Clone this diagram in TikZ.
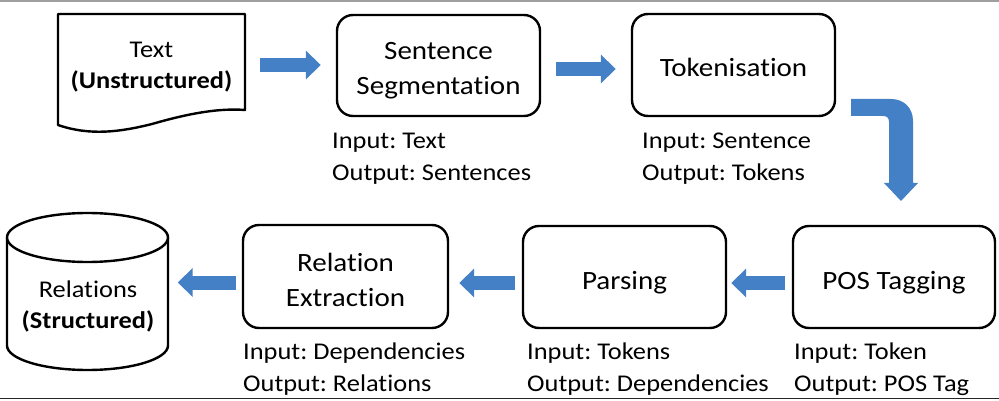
\documentclass[tikz,border=0pt]{standalone}
\usepackage{fontspec}
\setmainfont{Carlito}[FakeStretch=1.1, Ligatures={NoCommon}]
\usetikzlibrary{arrows.meta,calc}
\frenchspacing
\definecolor{arrowblue}{RGB}{68,128,198}
\newcommand\boxtxt[1]{\raisebox{-5pt}[\height][\depth]{\begin{tabular}{@{}c@{}}#1\end{tabular}}}
\tikzset{
  box/.style={draw=black, line width=2.4pt, rounded corners=16pt, fill=white,
    inner sep=0pt, font=\fontsize{26.4}{35}\selectfont},
  lbl/.style={align=left, inner sep=0pt, font=\fontsize{24}{32}\selectfont},
  plaintxt/.style={align=center, inner sep=0pt, font=\fontsize{24}{31}\selectfont},
  outline/.style={draw=black, line width=2.4pt, fill=white},
  blk/.style={draw=arrowblue, line width=14pt,
    -{Triangle[length=15pt, width=28pt]}},
}
\begin{document}
\begin{tikzpicture}[x=1pt, y=-1pt]
\useasboundingbox (0,0) rectangle (999,401);
% frame lines
\draw[gray!75, line width=2pt] (0,1) -- (999,1);
\draw[black!85, line width=1.6pt] (0,398.5) -- (999,398.5);

% document shape
\draw[outline, line join=round] (58,14) -- (245,14) -- (245,110)
  .. controls (220,108) and (190,113) .. (152,124)
  .. controls (120,132) and (90,136) .. (58,125) -- cycle;
\node[plaintxt, minimum width=187, minimum height=110] (doc) at (151.5,67)
  {Text\\\textbf{(Unstructured)}};

% cylinder
\draw[outline] (7,237.5) -- (7,345.5)
  arc[start angle=180, end angle=0, x radius=80.5, y radius=24.5]
  -- (168,237.5);
\draw[outline] (87.5,237.5) ellipse [x radius=80.5, y radius=24.5];
\node[plaintxt, minimum width=161, minimum height=100] (cyl) at (88,306)
  {Relations\\\textbf{(Structured)}};

% process boxes
\node[box, minimum width=203, minimum height=101] (b1) at (438.5,65.5) {\boxtxt{Sentence\\Segmentation}};
\node[box, minimum width=203, minimum height=102] (b2) at (733.5,65) {\boxtxt{Tokenisation}};
\node[box, minimum width=202, minimum height=102] (b3) at (894,277) {\boxtxt{POS Tagging}};
\node[box, minimum width=203, minimum height=102] (b4) at (624.5,277) {\boxtxt{Parsing}};
\node[box, minimum width=205, minimum height=103] (b5) at (345.5,276.5) {\boxtxt{Relation\\Extraction}};

% labels
\node[lbl, anchor=base west] (l1) at (332,180) {Input: Text\\Output: Sentences};
\node[lbl, anchor=base west] (l2) at (642,180) {Input: Sentence\\Output: Tokens};
\node[lbl, anchor=base west] (l3) at (794,391) {Input: Token\\Output: POS Tag};
\node[lbl, anchor=base west] (l4) at (527,391) {Input: Tokens\\Output: Dependencies};
\node[lbl, anchor=base west] (l5) at (243,391) {Input: Dependencies\\Output: Relations};

% block arrows
\draw[blk] ([xshift=15,yshift=2]doc.east) -- ([xshift=-15,yshift=2]doc.east -| b1.west);
\draw[blk] ([xshift=15,yshift=-3.5]b1.east) -- ([xshift=-15,yshift=-3.5]b1.east -| b2.west);
\draw[blk] ([xshift=-7,yshift=-6]b3.west) -- ([xshift=4,yshift=-6]b3.west -| b4.east);
\draw[blk] ([xshift=-7,yshift=-6]b4.west) -- ([xshift=10,yshift=-6]b4.west -| b5.east);
\draw[blk] ([xshift=-6,yshift=-6]b5.west) -- ([xshift=9,yshift=-6]b5.west -| cyl.east);

% bent arrow
\fill[arrowblue] (851,99) -- (891,99) .. controls (904,99) and (913,108) .. (913,121)
  -- (913,183) -- (918,183) -- (901,201) -- (884,183) -- (889,183) -- (889,122)
  .. controls (889,118) and (887,116) .. (883,116) -- (851,116) -- cycle;
\end{tikzpicture}
\end{document}
